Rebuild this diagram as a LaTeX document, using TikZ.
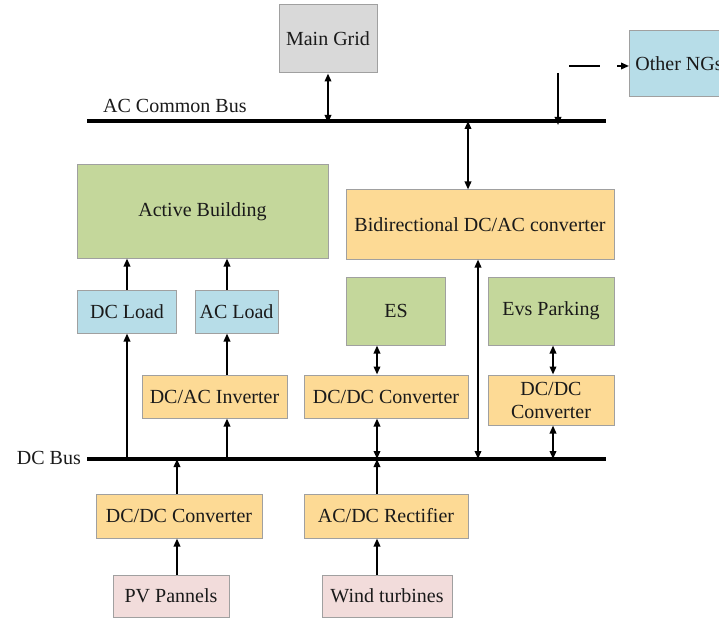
\documentclass[tikz,border=0pt]{standalone}
\usepackage{fontspec}
\setmainfont{Liberation Serif}
\usetikzlibrary{arrows.meta}
\definecolor{cgray}{HTML}{D9D9D9}
\definecolor{cblue}{HTML}{B7DDE8}
\definecolor{cgreen}{HTML}{C4D79B}
\definecolor{cyellow}{HTML}{FDDA95}
\definecolor{cpink}{HTML}{F2DCDB}
\definecolor{cedge}{HTML}{A0A0A0}
\definecolor{ctext}{HTML}{1A1A1A}
\tikzset{
  blk/.style={draw=cedge, line width=1pt, inner sep=0pt, align=center,
    text=ctext, font=\fontsize{20}{23}\selectfont},
  lbl/.style={inner sep=0pt, text=ctext, font=\fontsize{20}{23}\selectfont},
  arr/.style={line width=1.8pt, -{Triangle[length=8pt,width=6.5pt]}},
  darr/.style={line width=1.8pt, {Triangle[length=8pt,width=6.5pt]}-{Triangle[length=8pt,width=6.5pt]}},
  plain/.style={line width=1.8pt},
  bus/.style={line width=4pt},
}
\begin{document}
\begin{tikzpicture}[x=1pt,y=-1pt]
\useasboundingbox (0,0) rectangle (719,620);
\fill[white] (0,0) rectangle (719,620);

% buses
\coordinate (acL) at (87,121);
\coordinate (acR) at (606,121);
\coordinate (dcL) at (87,459);
\coordinate (dcR) at (606,459);
\draw[bus] (acL) -- (acR);
\draw[bus] (dcL) -- (dcR);
\node[lbl, anchor=west] (aclab) at (103,106) {AC Common Bus};
\node[lbl, anchor=east] (dclab) at (81,458) {DC Bus};

% boxes
\node[blk, fill=cgray, minimum width=98pt, minimum height=68pt] (mg) at (328,39) {Main Grid};
\node[blk, fill=cblue, minimum width=100pt, minimum height=66pt, anchor=west] (ng) at (629,64) {\hspace*{5pt}Other NGs\hspace*{6pt}};
\node[blk, fill=cgreen, minimum width=251pt, minimum height=93pt] (ab) at (202.5,211.5) {Active Building};
\node[blk, fill=cyellow, minimum width=268pt, minimum height=69pt] (bd) at (480,224.5) {Bidirectional DC/AC converter};
\node[blk, fill=cblue, minimum width=99pt, minimum height=43pt] (dcl) at (127,311.5) {DC Load};
\node[blk, fill=cblue, minimum width=83pt, minimum height=43pt] (acl) at (236.5,311.5) {AC Load};
\node[blk, fill=cgreen, minimum width=99pt, minimum height=68pt] (es) at (396,311) {ES};
\node[blk, fill=cgreen, minimum width=126pt, minimum height=68pt] (ev) at (551,311) {Evs Parking};
\node[blk, fill=cyellow, minimum width=145pt, minimum height=43pt] (inv) at (214.5,396.5) {DC/AC Inverter};
\node[blk, fill=cyellow, minimum width=164pt, minimum height=43pt] (dcm) at (386,396.5) {DC/DC Converter};
\node[blk, fill=cyellow, minimum width=126pt, minimum height=50pt] (dcr) at (551,400) {DC/DC\\Converter};
\node[blk, fill=cyellow, minimum width=166pt, minimum height=44pt] (dcb) at (179,516) {DC/DC Converter};
\node[blk, fill=cyellow, minimum width=164pt, minimum height=44pt] (rec) at (386,516) {AC/DC Rectifier};
\node[blk, fill=cpink, minimum width=116pt, minimum height=42pt] (pv) at (171,596) {PV Pannels};
\node[blk, fill=cpink, minimum width=130pt, minimum height=42pt] (wt) at (387,596) {Wind turbines};

% AC side connectors
\draw[darr] (mg.south) -- ([yshift=-2pt]mg.south |- acL);
\coordinate (ngA) at (558,73);
\draw[arr] (ngA) -- ([yshift=-4pt]ngA |- acL);
\coordinate (ngB) at (569,66);
\coordinate (ngC) at (600,66);
\draw[plain] (ngB) -- (ngC);
\coordinate (ngD) at (617,66);
\draw[arr] (ngD) -- (ng.west |- ngD);
\draw[darr] ([xshift=-12pt]bd.north |- acL) -- ([xshift=-12pt]bd.north);

% loads to building
\draw[arr] (dcl.north) -- (dcl.north |- ab.south);
\draw[arr] ([xshift=-9.5pt]acl.north) -- ([xshift=-9.5pt]acl.north |- ab.south);

% DC bus connectors
\draw[arr] (dcl.south |- dcL) -- (dcl.south);
\draw[arr] ([xshift=12.5pt]inv.north) -- ([xshift=12.5pt]inv.north |- acl.south);
\draw[arr] ([xshift=12.5pt]inv.south |- dcL) -- ([xshift=12.5pt]inv.south);
\draw[darr] ([xshift=-19pt]es.south) -- ([xshift=-19pt]es.south |- dcm.north);
\draw[darr] ([xshift=-9pt]dcm.south) -- ([xshift=-9pt]dcm.south |- dcL);
\draw[darr] ([xshift=-2pt]bd.south) -- ([xshift=-2pt]bd.south |- dcL);
\draw[darr] ([xshift=2pt]ev.south) -- ([xshift=2pt]ev.south |- dcr.north);
\draw[darr] ([xshift=2pt]dcr.south) -- ([xshift=2pt]dcr.south |- dcL);

% sources
\draw[arr] ([xshift=-2pt]dcb.north) -- ([xshift=-2pt]dcb.north |- dcL);
\draw[arr] ([xshift=-9pt]rec.north) -- ([xshift=-9pt]rec.north |- dcL);
\draw[arr] ([xshift=6pt]pv.north) -- ([xshift=6pt]pv.north |- dcb.south);
\draw[arr] ([xshift=-10pt]wt.north) -- ([xshift=-10pt]wt.north |- rec.south);
\end{tikzpicture}
\end{document}
